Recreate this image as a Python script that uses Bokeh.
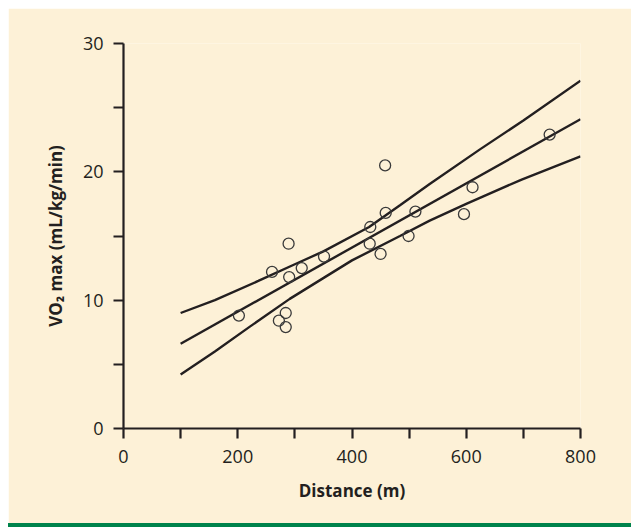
from bokeh.plotting import figure
from bokeh.models import Range1d, FixedTicker, Div
from bokeh.layouts import column
from bokeh.embed import file_html
from bokeh.resources import INLINE

# Data
distance = [202, 272, 284, 284, 260, 289, 290, 312, 351, 432, 431, 450, 458, 459, 511, 499, 611, 596, 746]
vo2max = [8.8, 8.4, 9.0, 7.9, 12.2, 14.4, 11.8, 12.5, 13.4, 15.7, 14.4, 13.6, 20.5, 16.8, 16.9, 15.0, 18.8, 16.7, 22.9]

fit_x = [100, 800]
fit_y = [6.6, 24.1]

upper_x = [100, 160, 236, 300, 350, 430, 484, 536, 624, 700, 800]
upper_y = [9.0, 10.0, 11.5, 12.8, 13.8, 15.7, 17.4, 19.05, 21.75, 24.0, 27.1]

lower_x = [100, 160, 220, 291, 400, 484, 536, 600, 697, 800]
lower_y = [4.2, 6.0, 7.9, 10.1, 13.1, 15.0, 16.2, 17.5, 19.4, 21.2]

x_ticks = [0, 200, 400, 600, 800]
x_minor = [100, 300, 500, 700]
y_ticks = [0, 10, 20, 30]
y_minor = [5, 15, 25]

CREAM = "#fdf1d7"
DARK = "#231f20"
GREEN = "#00834c"
FONT = "Open Sans"

p = figure(frame_width=457, frame_height=385,
           min_border_left=115, min_border_top=35, min_border_right=51, min_border_bottom=95,
           x_range=Range1d(0, 800), y_range=Range1d(0, 30),
           output_backend="svg", toolbar_location=None,
           background_fill_color=CREAM, border_fill_color=CREAM)
p.outline_line_color = None
p.grid.visible = False

for ax, ticks, minor in ((p.xaxis, x_ticks, x_minor), (p.yaxis, y_ticks, y_minor)):
    ax.ticker = FixedTicker(ticks=ticks, minor_ticks=minor)
    ax.axis_line_color = DARK
    ax.axis_line_width = 2.2
    ax.major_tick_line_color = DARK
    ax.major_tick_line_width = 2.2
    ax.minor_tick_line_color = DARK
    ax.minor_tick_line_width = 2.2
    ax.major_tick_in = 0
    ax.major_tick_out = 10
    ax.minor_tick_in = 0
    ax.minor_tick_out = 10
    ax.major_label_text_font = FONT
    ax.major_label_text_font_size = "18px"
    ax.major_label_text_color = DARK
    ax.axis_label_text_font = FONT
    ax.axis_label_text_font_style = "bold"
    ax.axis_label_text_font_size = "17px"
    ax.axis_label_text_color = DARK

p.xaxis.major_label_standoff = 11
p.yaxis.major_label_standoff = 10
p.xaxis.axis_label = "Distance (m)"
p.yaxis.axis_label = "VO₂ max (mL/kg/min)"
p.xaxis.axis_label_standoff = 13
p.yaxis.axis_label_standoff = 13

p.line(upper_x, upper_y, line_color=DARK, line_width=2.4)
p.line(fit_x, fit_y, line_color=DARK, line_width=2.4)
p.line(lower_x, lower_y, line_color=DARK, line_width=2.4)
p.scatter(distance, vo2max, marker="circle", size=11, fill_color=None,
          line_color="#3a3a3a", line_width=1.3)

bar = Div(width=p.frame_width + 115 + 51, height=4, margin=0,
          styles={"background-color": GREEN})
layout = column(p, bar, spacing=0, margin=(8, 0, 0, 8))

open("out.html", "w").write(file_html(layout, INLINE))
